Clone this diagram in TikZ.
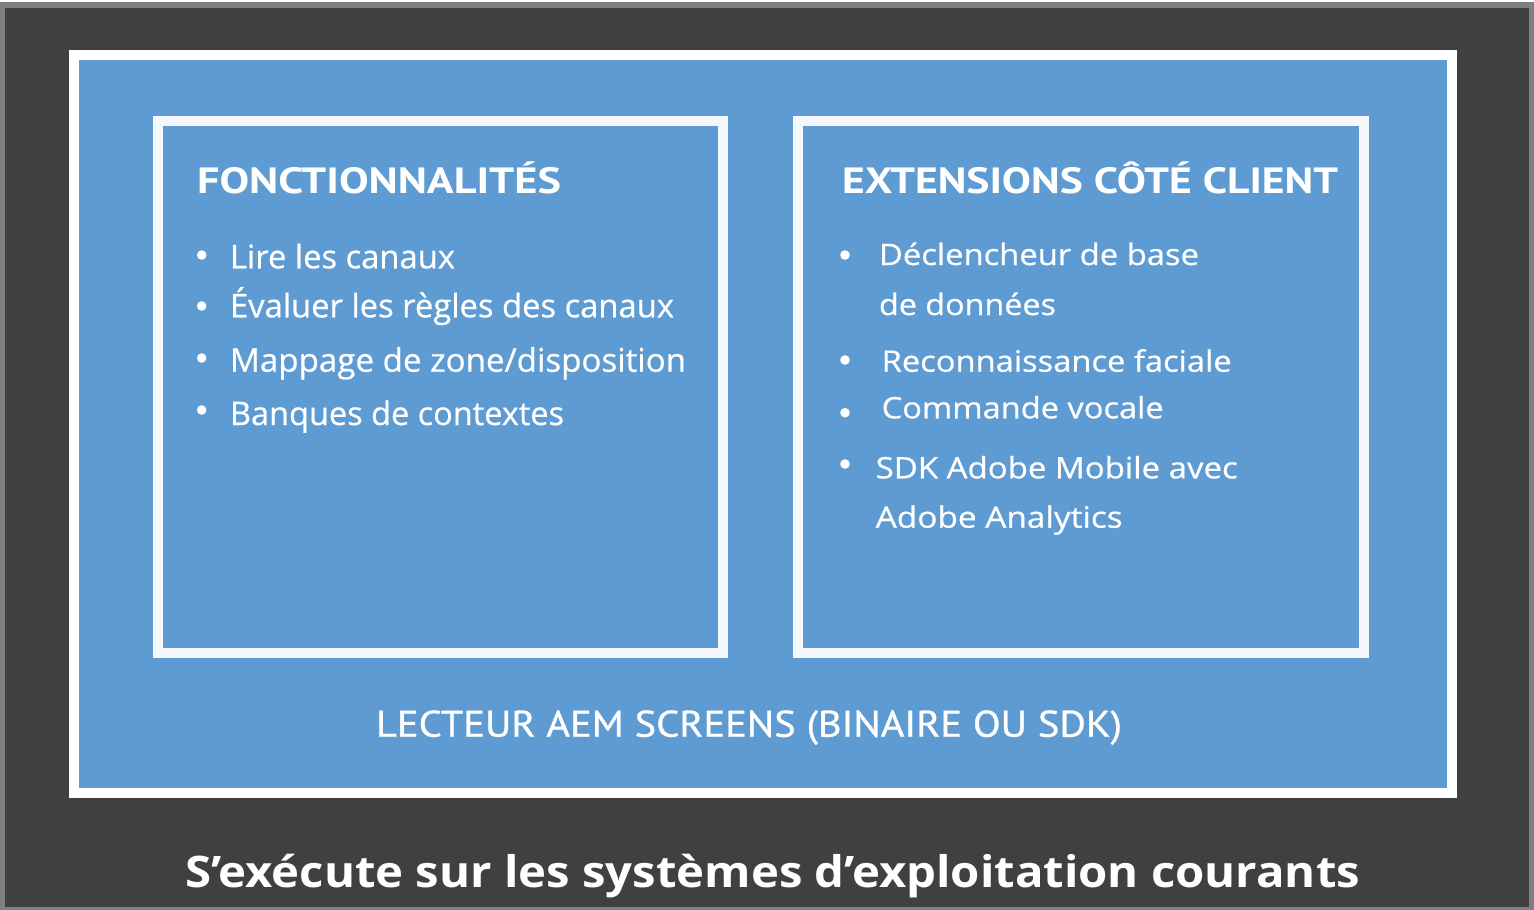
\documentclass[tikz,border=0pt]{standalone}
\usepackage{fontspec}
\usepackage{graphicx}
\setmainfont{Open Sans}
\newfontfamily\bodyfont{Open Sans}[FakeBold=0.6]
\newfontfamily\headfont{PT Sans}
\newfontfamily\playerfont{PT Sans}[FakeBold=0.8]
\definecolor{darkbg}{HTML}{404040}
\definecolor{edgegray}{HTML}{7F7F7F}
\definecolor{panelblue}{HTML}{5E9BD3}
\definecolor{boxwhite}{HTML}{F4F8FC}
\newcommand{\fitw}[2]{\resizebox{#1}{\height}{#2}}
\tikzset{
  txt/.style={anchor=base west, inner sep=0pt, outer sep=0pt, text=white},
  bodyL/.style={txt, font=\bodyfont\fontsize{32.5}{36}\selectfont},
  bodyR/.style={txt, font=\bodyfont\fontsize{29.5}{34}\selectfont},
  headtxt/.style={txt, font=\headfont\bfseries\fontsize{36.5}{40}\selectfont},
  bul/.style={fill=white},
}
\begin{document}
\begin{tikzpicture}[x=1pt,y=-1pt]
\useasboundingbox (0,0) rectangle (1534,910);
% frame layers
\fill[white] (0,0) rectangle (1534,910);
\fill[edgegray] (0,2) rectangle (1534,910);
\fill[darkbg] (5,8) rectangle (1529,907);
\fill[white] (69,50) rectangle (1457,798);
\fill[panelblue] (79,60) rectangle (1447,788);
% inner boxes
\fill[boxwhite] (153,116) rectangle (728,658);
\fill[panelblue] (163,126) rectangle (718,648);
\fill[boxwhite] (793,116) rectangle (1369,658);
\fill[panelblue] (803,126) rectangle (1359,648);
% left box
\node[headtxt] (h1) at (197,193.5) {\fitw{364pt}{FONCTIONNALITÉS}};
\fill[bul] (201.7,255) circle (4.8pt);
\fill[bul] (201.7,306) circle (4.8pt);
\fill[bul] (201.7,358) circle (4.8pt);
\fill[bul] (201.7,410) circle (4.8pt);
\node[bodyL] (l1) at (230,268.3) {\fitw{225pt}{Lire les canaux}};
\node[bodyL] (l2) at (230,317.3) {\fitw{444pt}{Évaluer les règles des canaux}};
\node[bodyL] (l3) at (230,371.7) {\fitw{456pt}{Mappage de zone/disposition}};
\node[bodyL] (l4) at (230,425) {\fitw{334pt}{Banques de contextes}};
% right box
\node[headtxt] (h2) at (842,193.5) {\fitw{496pt}{EXTENSIONS CÔTÉ CLIENT}};
\fill[bul] (845,255) circle (4.8pt);
\fill[bul] (845,360) circle (4.8pt);
\fill[bul] (845,412.7) circle (4.8pt);
\fill[bul] (845,464) circle (4.8pt);
\node[bodyR] (r1) at (879,265) {\fitw{320pt}{Déclencheur de base}};
\node[bodyR] (r1b) at (879,315) {\fitw{177pt}{de données}};
\node[bodyR] (r2) at (881.7,371.7) {\fitw{350pt}{Reconnaissance faciale}};
\node[bodyR] (r3) at (881.7,418.3) {\fitw{282pt}{Commande vocale}};
\node[bodyR] (r4) at (875.7,478.3) {\fitw{362pt}{SDK Adobe Mobile avec}};
\node[bodyR] (r4b) at (875.7,527.7) {\fitw{247pt}{Adobe Analytics}};
% player label
\node[txt, font=\playerfont\fontsize{37}{40}\selectfont] (player) at (376,736.7) {\fitw{746pt}{LECTEUR AEM SCREENS (BINAIRE OU SDK)}};
% bottom label
\node[txt, font=\bfseries\fontsize{43.5}{48}\selectfont] (os) at (185,887.5) {\fitw{1175pt}{S’exécute sur les systèmes d’exploitation courants}};
\end{tikzpicture}
\end{document}
